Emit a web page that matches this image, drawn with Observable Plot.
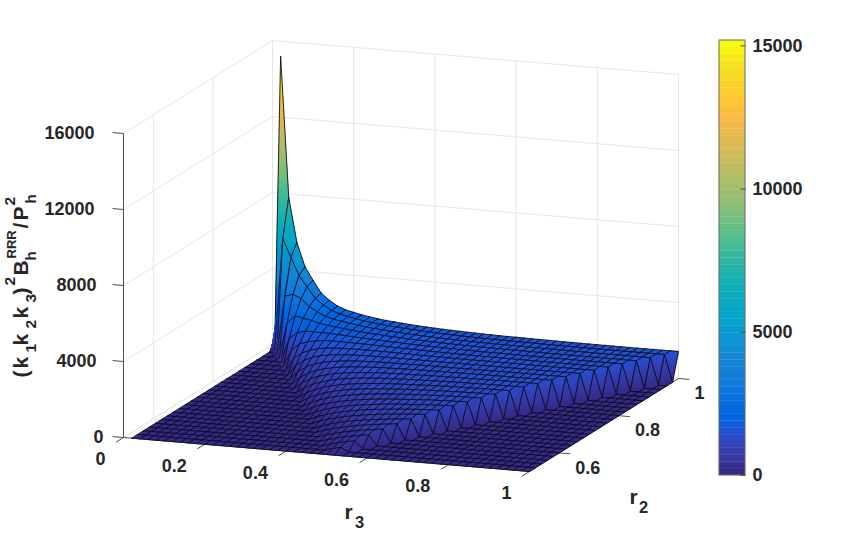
<!DOCTYPE html>
<html><head><meta charset="utf-8">
<style>html,body{margin:0;padding:0;background:#fff}svg{display:block}</style>
<script src="https://cdn.jsdelivr.net/npm/d3@7"></script>
<script src="https://cdn.jsdelivr.net/npm/@observablehq/plot@0.6"></script>
</head><body><div id="chart"></div>
<script>
// r3 = 0.02 j (j = 1..50); r2 = 1 - 0.02 n (n = 0..25)
// Each row lists the heights inside the triangle, starting at j = max(n, 1); outside it the surface lies on the floor.
const row00=[15100,8100,5767,4600,3900,3433,3100,2850,2656,2500,2373,2267,2177,2100,2033,1975,1924,1878,1837,1800,1767,1736,1709,1683,1660,1638,1619,1600,1583,1567,1552,1538,1524,1512,1500,1489,1478,1468,1459,1450,1441,1433,1426,1418,1411,1404,1398,1392,1386,1380];
const row01=[0,6075,5126,4312,3744,3338,3037,2805,2623,2475,2353,2251,2164,2089,2024,1967,1917,1872,1832,1796,1763,1732,1706,1680,1657,1636,1617,1598,1581,1565,1550,1537,1523,1511,1499,1488,1477,1467,1458,1449,1440,1432,1425,1417,1410,1403,1397,1391,1385];
const row02=[0,3204,3450,3276,3052,2847,2672,2525,2400,2295,2204,2125,2057,1997,1944,1897,1855,1817,1782,1751,1722,1696,1671,1649,1628,1610,1592,1575,1560,1545,1532,1518,1507,1495,1484,1474,1464,1455,1446,1438,1430,1423,1415,1408,1401,1395,1390];
const row03=[0,2012,2496,2575,2531,2449,2361,2275,2196,2125,2061,2004,1952,1906,1864,1826,1791,1760,1731,1704,1680,1657,1636,1616,1599,1582,1566,1551,1537,1524,1511,1500,1489,1479,1468,1459,1450,1442,1433,1426,1419,1411,1405,1398,1392];
const row04=[0,1404,1907,2088,2138,2131,2100,2059,2015,1971,1929,1888,1852,1817,1785,1756,1728,1703,1679,1657,1636,1618,1599,1584,1567,1553,1539,1526,1514,1502,1491,1480,1471,1461,1452,1444,1436,1427,1420,1414,1406,1400,1393];
const row05=[0,1049,1518,1737,1836,1875,1883,1873,1855,1832,1807,1782,1758,1733,1710,1688,1667,1646,1628,1610,1594,1577,1563,1549,1536,1523,1512,1500,1489,1479,1469,1460,1451,1443,1435,1427,1420,1413,1407,1400,1394];
const row06=[0,822,1247,1476,1600,1667,1700,1713,1714,1708,1697,1684,1669,1654,1638,1623,1607,1593,1578,1564,1551,1539,1527,1515,1504,1494,1484,1474,1465,1456,1448,1439,1431,1424,1417,1410,1404,1398,1392];
const row07=[0,668,1049,1275,1412,1496,1546,1575,1590,1597,1598,1594,1588,1580,1571,1560,1551,1540,1530,1519,1510,1500,1491,1482,1473,1464,1455,1448,1440,1433,1425,1418,1412,1406,1399,1393,1388];
const row08=[0,557,900,1118,1259,1353,1414,1455,1481,1498,1507,1511,1512,1511,1507,1502,1496,1490,1483,1477,1469,1463,1456,1449,1442,1434,1428,1422,1415,1409,1403,1398,1392,1386,1381];
const row09=[0,475,785,992,1134,1232,1301,1350,1385,1409,1425,1436,1442,1445,1447,1446,1445,1442,1439,1435,1431,1426,1421,1416,1411,1406,1401,1396,1390,1386,1381,1377,1372];
const row10=[0,412,693,889,1029,1130,1204,1258,1298,1328,1350,1366,1377,1386,1391,1394,1396,1397,1396,1395,1393,1390,1388,1384,1381,1378,1374,1370,1366,1363,1359];
const row11=[0,362,618,804,940,1041,1118,1177,1221,1256,1282,1302,1318,1329,1339,1345,1350,1353,1355,1356,1357,1356,1355,1354,1352,1350,1347,1345,1343];
const row12=[0,322,557,732,864,965,1043,1104,1152,1190,1220,1244,1262,1278,1289,1299,1306,1312,1316,1319,1322,1322,1324,1324,1324,1323,1322];
const row13=[0,289,506,671,799,898,977,1040,1090,1130,1163,1189,1211,1229,1244,1255,1265,1273,1279,1284,1287,1291,1293,1295,1296];
const row14=[0,262,463,619,742,840,918,982,1033,1076,1110,1139,1163,1184,1200,1214,1226,1235,1244,1250,1256,1260,1264];
const row15=[0,239,426,574,692,788,865,929,982,1026,1062,1093,1119,1141,1160,1175,1189,1200,1209,1218,1224];
const row16=[0,220,394,534,648,741,818,882,935,980,1018,1050,1078,1101,1121,1139,1154,1166,1177];
const row17=[0,203,366,500,609,699,775,839,892,938,977,1010,1039,1064,1085,1104,1120];
const row18=[0,188,342,469,574,662,736,799,853,900,939,973,1003,1029,1051];
const row19=[0,176,321,441,543,628,701,763,817,863,903,938,969];
const row20=[0,164,301,417,514,598,669,731,784,830,871];
const row21=[0,154,284,394,489,569,640,700,753];
const row22=[0,145,269,374,465,544,612];
const row23=[0,137,255,356,444];
const row24=[0,130,242];
const row25=[0];
const heightRows=[row00,row01,row02,row03,row04,row05,row06,row07,row08,row09,row10,row11,row12,row13,row14,row15,row16,row17,row18,row19,row20,row21,row22,row23,row24,row25];
// Per-column correction read from the back-edge silhouette (j = 1..50)
const columnRead=[1.006,.963,.95,.92,.91,.85,.83,.81,.81,.82,.825,.83,.835,.84,.85,.855,.86,.865,.87,.875,.88,.885,.89,.895,.9,.905,.91,.915,.92,.93,.935,.94,.945,.95,.955,.96,.965,.97,.975,.98,.985,.99,.995,1,1.005,1.01,1.015,1.02,1.025,1.03];

const r3Ticks=[0,0.2,0.4,0.6,0.8,1];
const r3TickLabels=["0","0.2","0.4","0.6","0.8","1"];
const r2Ticks=[0.6,0.8,1];
const r2TickLabels=["0.6","0.8","1"];
const zTicks=[0,4000,8000,12000,16000];
const zTickLabels=["0","4000","8000","12000","16000"];
const cbTicks=[0,5000,10000,15000];
const cbTickLabels=["0","5000","10000","15000"];
const cbMax=15188;
const parula=[[.2081,.1663,.5292],[.2116,.1898,.5777],[.2123,.2138,.627],[.2081,.2386,.6771],[.1959,.2645,.7279],[.1707,.2919,.7792],[.1253,.3242,.8303],[.0591,.3598,.8683],[.0117,.3875,.882],[.006,.4086,.8828],[.0165,.4266,.8786],[.0329,.443,.872],[.0498,.4586,.8641],[.0629,.4737,.8554],[.0723,.4887,.8467],[.0779,.504,.8384],[.0793,.52,.8312],[.0749,.5375,.8263],[.0641,.557,.824],[.0488,.5772,.8228],[.0343,.5966,.8199],[.0265,.6137,.8135],[.0239,.6287,.8038],[.0231,.6418,.7913],[.0228,.6535,.7768],[.0267,.6642,.7607],[.0384,.6743,.7436],[.059,.6838,.7254],[.0843,.6928,.7062],[.1133,.7015,.6859],[.1453,.7098,.6646],[.1801,.7177,.6424],[.2178,.725,.6193],[.2586,.7317,.5954],[.3022,.7376,.5712],[.3482,.7424,.5473],[.3953,.7459,.5244],[.442,.7481,.5033],[.4871,.7491,.484],[.53,.7491,.4661],[.5709,.7485,.4494],[.6099,.7473,.4337],[.6473,.7456,.4188],[.6834,.7435,.4044],[.7184,.7411,.3905],[.7525,.7384,.3768],[.7858,.7356,.3633],[.8185,.7327,.3498],[.8507,.7299,.336],[.8824,.7274,.3217],[.9139,.7258,.3063],[.945,.7261,.2886],[.9739,.7314,.2666],[.9938,.7455,.2403],[.999,.7653,.2164],[.9955,.7861,.1967],[.988,.8066,.1794],[.9789,.8271,.1633],[.9697,.8481,.1475],[.9626,.8705,.1309],[.9589,.8949,.1132],[.9598,.9218,.0948],[.9661,.9514,.0755],[.9763,.9831,.0538]]
  .map(([r,g,b])=>d3.rgb(r*255,g*255,b*255).formatHex());

// View: orthographic projection of the 3-D box on the page
const W=843,H=533;
const project=(r3,r2,z)=>[123+406*r3+298*(r2-.5), 437+34*r3-186*(r2-.5)-.019*z];

const colorScale=Plot.scale({color:{type:"linear",domain:[0,cbMax],interpolate:d3.piecewise(d3.interpolateRgb,parula)}});

const J=50,N=25;
const heightAt=(n,j)=>{
  const row=heightRows[n],start=Math.max(n,1);
  const i=j-start;
  return i>=0&&i<row.length?row[i]*columnRead[j-1]:0;
};
const polys=[];let pid=0;
function pushPoly(corners,fill,stroke,sw){
  pid++;
  for(const [a,b,c] of [...corners,corners[0]]){
    const [x,y]=project(a,b,c);
    polys.push({id:pid,x,y,fill,stroke,sw});
  }
}
const dark="#0b0b1e";
for(let n=0;n<N;n++){
  for(let j=1;j<J;j++){
    const r3a=j*.02,r3b=(j+1)*.02,r2a=1-n*.02,r2b=1-(n+1)*.02;
    const z00=heightAt(n,j),z01=heightAt(n,j+1),z10=heightAt(n+1,j),z11=heightAt(n+1,j+1);
    const span=Math.max(z00,z01,z10,z11)-Math.min(z00,z01,z10,z11);
    const m=Math.min(30,Math.max(1,Math.ceil(span/180)));
    const P=(u,v)=>{
      const z=(1-v)*((1-u)*z00+u*z01)+v*((1-u)*z10+u*z11);
      return [r3a+(r3b-r3a)*u,r2a+(r2b-r2a)*v,z];
    };
    const outline=[P(0,0),P(1,0),P(1,1),P(0,1)];
    const meanColor=colorScale.apply((z00+z01+z10+z11)/4);
    pushPoly(outline,meanColor,meanColor,.2);
    if(m>1)for(let a=0;a<m;a++)for(let b=0;b<m;b++){
      const c=[P(a/m,b/m),P((a+1)/m,b/m),P((a+1)/m,(b+1)/m),P(a/m,(b+1)/m)];
      const col=colorScale.apply(d3.mean(c,d=>d[2]));
      pushPoly(c,col,col,.3);
    }
    pushPoly(outline,"none",dark,.85);
  }
}

// Walls
const seg=(a,b)=>[project(...a),project(...b)];
const gridSegs=[];
for(const z of zTicks){gridSegs.push(seg([0,.5,z],[0,1,z]));gridSegs.push(seg([0,1,z],[1,1,z]));}
for(const r of r3Ticks){gridSegs.push(seg([r,1,0],[r,1,16000]));gridSegs.push(seg([r,.5,0],[r,1,0]));}
for(const r of [.5,.6,.8,1]){gridSegs.push(seg([0,r,0],[0,r,16000]));gridSegs.push(seg([0,r,0],[1,r,0]));}
const toLinks=s=>s.map(([[x1,y1],[x2,y2]])=>({x1,y1,x2,y2}));

const tickSegs=[
  ...r3Ticks.map(r=>seg([r,.5,0],[r,.475,0])),
  ...r2Ticks.map(r=>seg([1,r,0],[1.027,r,0])),
  ...zTicks.map(z=>seg([0,.5,z],[-.027,.5,z])),
  seg([0,.5,0],[0,.5,16000]),
  seg([0,.5,0],[1,.5,0]),
  seg([1,.5,0],[1,1,0])
];

const ink="#262626",fs=18;
const r3Text=r3Ticks.map((r,i)=>{const [x,y]=project(r,.5,0);return {t:r3TickLabels[i],x:x-18,y:y+22};});
const r2Text=r2Ticks.map((r,i)=>{const [x,y]=project(1,r,0);return {t:r2TickLabels[i],x:x+16,y:y+15};});
const zRight={1:103,4:96,5:94};
const zText=zTicks.map((z,i)=>{const [,y]=project(0,.5,z);return {t:zTickLabels[i],x:zRight[zTickLabels[i].length],y};});

// Colour bar
const cbX1=719,cbX2=745,cbY0=475,cbY1=40;
const cbY=v=>cbY0+(cbY1-cbY0)*v/cbMax;
const bands=parula.map((c,i)=>({c,y1:cbY0+(cbY1-cbY0)*i/64,y2:cbY0+(cbY1-cbY0)*(i+1)/64}));

// Axis titles, piece by piece for sub- and superscripts
const zTitle=[
 {t:"(",x:27.5,y:377,s:21},{t:"k",x:27.5,y:368,s:21},{t:"1",x:35.5,y:352,s:15.5},
 {t:"k",x:27.5,y:345,s:21},{t:"2",x:35.5,y:328,s:15.5},
 {t:"k",x:27.5,y:318,s:21},{t:"3",x:35.5,y:302,s:15.5},
 {t:")",x:27.5,y:294,s:21},{t:"2",x:14,y:285,s:15.5},
 {t:"B",x:27.5,y:275,s:21},{t:"RRR",x:15,y:258,s:13},{t:"h",x:35.5,y:260,s:15},
 {t:"/",x:27.5,y:228,s:21},{t:"P",x:27.5,y:220,s:21},{t:"2",x:14,y:205,s:15.5},{t:"h",x:35.5,y:203,s:15}
];
const axisTitles=[
 {t:"r",x:348,y:512,s:21},{t:"3",x:359,y:522,s:16.5},
 {t:"r",x:633,y:497,s:21},{t:"2",x:643,y:507,s:16.5}
];

const chart=Plot.plot({
  width:W,height:H,margin:0,
  style:{background:"#fff",fontFamily:"'Liberation Sans',Arial,sans-serif",fontWeight:"bold",overflow:"hidden"},
  x:{domain:[0,W],range:[0,W],axis:null},
  y:{domain:[0,H],range:[0,H],axis:null},
  color:{type:"identity"},
  marks:[
    Plot.link(toLinks(gridSegs),{x1:"x1",y1:"y1",x2:"x2",y2:"y2",stroke:"#e6e6e6",strokeWidth:1}),
    Plot.link(toLinks(tickSegs),{x1:"x1",y1:"y1",x2:"x2",y2:"y2",stroke:"#4d4d4d",strokeWidth:1}),
    Plot.line(polys,{x:"x",y:"y",z:"id",fill:"fill",stroke:"stroke",strokeWidth:"sw",curve:"linear",strokeLinejoin:"round"}),
    Plot.rect(bands,{x1:cbX1,x2:cbX2,y1:"y1",y2:"y2",fill:"c",stroke:"c",strokeWidth:.3}),
    Plot.rect([{}],{x1:cbX1,x2:cbX2,y1:cbY1,y2:cbY0,fill:"none",stroke:"#6b6b6b",strokeWidth:1}),
    Plot.link(cbTicks,{x1:cbX2-5,x2:cbX2,y1:d=>cbY(d),y2:d=>cbY(d),stroke:"#4d4d4d",strokeWidth:1}),
    Plot.text(cbTicks,{text:(d,i)=>cbTickLabels[i],x:752,y:d=>cbY(d),textAnchor:"start",fontSize:fs,fill:ink}),
    Plot.text(r3Text,{text:"t",x:"x",y:"y",textAnchor:"end",fontSize:fs,fill:ink}),
    Plot.text(r2Text,{text:"t",x:"x",y:"y",textAnchor:"start",fontSize:fs,fill:ink}),
    Plot.text(zText,{text:"t",x:"x",y:"y",textAnchor:"end",fontSize:fs,fill:ink}),
    Plot.text(zTitle,{text:"t",x:"x",y:"y",fontSize:"s",rotate:-90,textAnchor:"start",lineAnchor:"bottom",fill:ink}),
    Plot.text(axisTitles,{text:"t",x:"x",y:"y",fontSize:"s",textAnchor:"middle",fill:ink})
  ]
});
document.getElementById("chart").append(chart);
</script></body></html>
